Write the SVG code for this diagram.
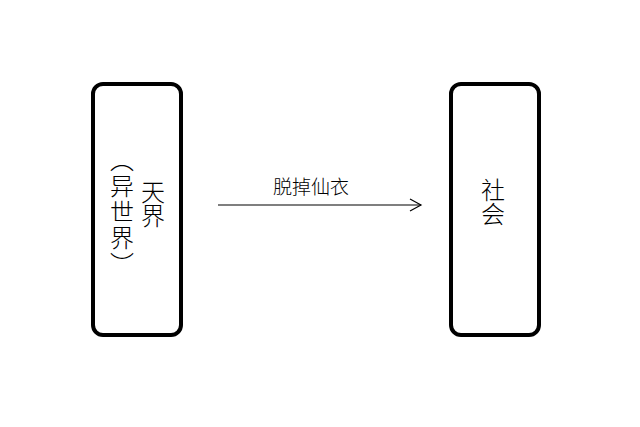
<svg xmlns="http://www.w3.org/2000/svg" width="640" height="427" viewBox="0 0 640 427">
<style>
.box{fill:#fff;stroke:#000;stroke-width:4}
.t{font-family:"Noto Sans CJK SC","Noto Sans CJK JP",sans-serif;font-size:24px;fill:#000;font-weight:300}
.v{writing-mode:vertical-rl}
</style>
<defs><marker id="a" markerWidth="14" markerHeight="14" refX="12" refY="7" orient="auto" markerUnits="userSpaceOnUse"><path d="M1,1 L12,7 L1,13" fill="none" stroke="#000" stroke-width="1.2"/></marker></defs>
<rect width="640" height="427" fill="#fff"/>
<g id="n1"><rect class="box" x="93" y="84" width="88" height="251" rx="10"/>
<text class="t v" x="153" y="180">天界</text>
<text class="t v" x="122" y="148" style="letter-spacing:2px">（异世界）</text></g>
<g id="n2"><rect class="box" x="451" y="84" width="88" height="251" rx="10"/>
<text class="t v" x="493" y="178">社会</text></g>
<g id="edges"><line x1="218" y1="205" x2="421" y2="205" stroke="#000" stroke-width="1.2" marker-end="url(#a)"/>
<text class="t" x="311" y="194" text-anchor="middle" style="font-size:19px">脱掉仙衣</text></g>
</svg>
